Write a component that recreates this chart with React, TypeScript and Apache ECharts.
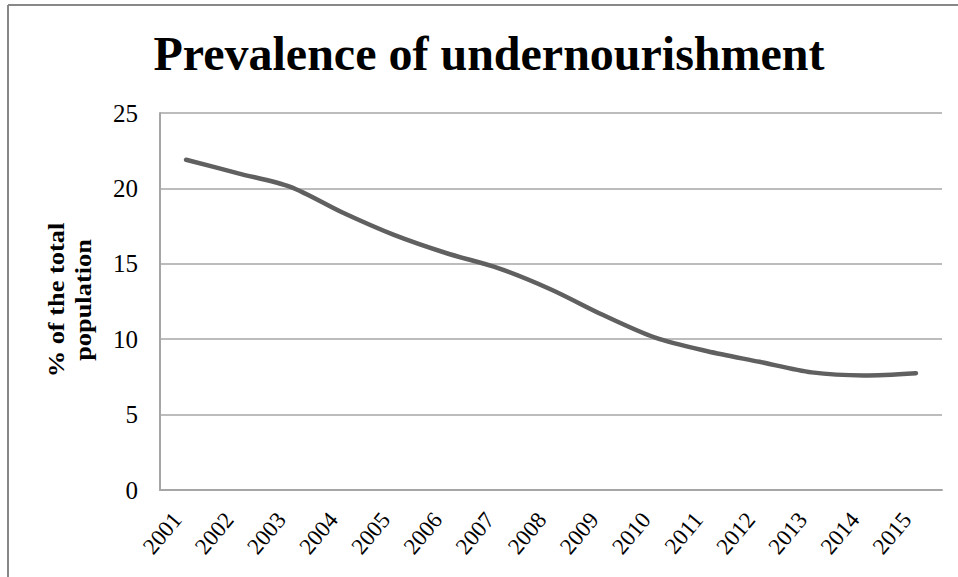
import React, { useEffect, useRef } from "react";
import * as echarts from "echarts";

const years = ["2001","2002","2003","2004","2005","2006","2007","2008","2009","2010","2011","2012","2013","2014","2015"];
const prevalence = [21.9, 21.0, 20.1, 18.4, 16.9, 15.7, 14.7, 13.3, 11.6, 10.1, 9.2, 8.5, 7.8, 7.6, 7.75];
const titleText = "Prevalence of undernourishment";
const yAxisTitle = "% of the total\npopulation";

const FONT = "'Liberation Serif', 'Times New Roman', serif";

export default function App() {
  const ref = useRef<HTMLDivElement>(null);
  useEffect(() => {
    if (!ref.current) return;
    const chart = echarts.init(ref.current, null, { renderer: "svg" });
    chart.setOption({
      animation: false,
      backgroundColor: "#ffffff",
      title: {
        text: titleText,
        left: 484,
        textAlign: "center",
        top: 24,
        textStyle: { fontFamily: FONT, fontSize: 48, fontWeight: "bold", color: "#000" },
      },
      grid: { left: 160, right: 16, top: 113, bottom: 87, containLabel: false },
      xAxis: {
        type: "category",
        data: years,
        boundaryGap: true,
        axisLine: { show: true, lineStyle: { color: "#a6a6a6", width: 2 } },
        axisTick: { show: false },
        axisLabel: {
          rotate: 50,
          fontFamily: FONT,
          fontSize: 23,
          color: "#000",
          margin: 15,
          padding: [0, 14, 0, 0],
          interval: 0,
        },
        splitLine: { show: false },
      },
      yAxis: {
        type: "value",
        min: 0,
        max: 25,
        interval: 5,
        axisLine: { show: true, lineStyle: { color: "#a6a6a6", width: 2 } },
        axisTick: { show: false },
        axisLabel: { fontFamily: FONT, fontSize: 25, color: "#000", margin: 22 },
        splitLine: { show: true, lineStyle: { color: "#a6a6a6", width: 1.5 } },
      },
      series: [
        {
          type: "line",
          data: prevalence,
          smooth: 0.3,
          symbol: "none",
          lineStyle: { color: "#606060", width: 4.5, cap: "round" },
        },
      ],
      graphic: [
        {
          type: "line",
          shape: { x1: 8, y1: 5, x2: 958, y2: 5 },
          style: { stroke: "#888888", lineWidth: 2 },
        },
        {
          type: "line",
          shape: { x1: 8, y1: 5, x2: 8, y2: 577 },
          style: { stroke: "#888888", lineWidth: 2 },
        },
        {
          type: "text",
          x: 69,
          y: 300,
          rotation: Math.PI / 2,
          scaleX: 1.1,
          style: {
            text: yAxisTitle,
            font: `bold 24px ${FONT}`,
            fill: "#000",
            align: "center",
            verticalAlign: "middle",
            lineHeight: 27,
          },
        },
      ],
    });
    return () => chart.dispose();
  }, []);
  return <div ref={ref} style={{ position: "fixed", left: 0, top: 0, width: 958, height: 577 }} />;
}
